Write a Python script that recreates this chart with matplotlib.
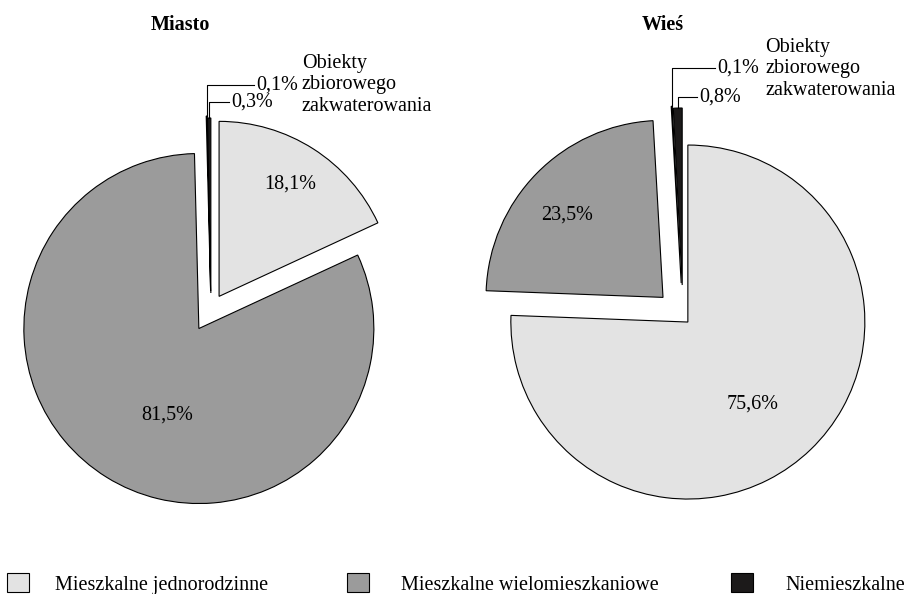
import numpy as np
import matplotlib
matplotlib.use("Agg")
import matplotlib.pyplot as plt

# data (order in each pie, clockwise from 12 o'clock)
categories = ["Mieszkalne jednorodzinne", "Mieszkalne wielomieszkaniowe",
              "Obiekty zbiorowego zakwaterowania", "Niemieszkalne"]
miasto = [18.1, 81.5, 0.1, 0.3]
wies = [75.6, 23.5, 0.1, 0.8]
titles = ["Miasto", "Wieś"]
colors = ["#e3e3e3", "#9b9b9b", "#ffffff", "#1c1a1a"]

plt.rcParams["font.family"] = ["Liberation Serif", "DejaVu Serif"]
FS = 14.5

fig = plt.figure(figsize=(9.14, 5.94), dpi=100)
ax = fig.add_axes([0, 0, 1, 1])


def fmt(v):
    return f"{v:.1f}".replace(".", ",") + "%"


def draw_pie(vals, center, radius, explode):
    wedges, _ = ax.pie(vals, colors=colors, startangle=-90, counterclock=True,
                       explode=explode, center=center, radius=radius,
                       wedgeprops=dict(edgecolor="black", linewidth=0.8))
    return wedges


def tip(w):
    a = np.deg2rad((w.theta1 + w.theta2) / 2)
    return w.center[0] + w.r * np.cos(a), w.center[1] + w.r * np.sin(a)


def leader(w, y_lab, x_end, text):
    x0, y0 = tip(w)
    ax.plot([x0, x0, x_end], [y0, y_lab, y_lab], color="black", lw=0.8)
    ax.text(x_end + 2, y_lab, text, fontsize=FS, va="center", ha="left")


# Miasto
wm = draw_pie(miasto, (211, 309), 175, [15, 23, 18, 16])
# Wieś
ww = draw_pie(wies, (683, 317), 177, [7, 28, 34, 32])

ax.set_xlim(0, 914)
ax.set_ylim(594, 0)
ax.set_aspect("equal")
ax.axis("off")

ax.text(180, 30, titles[0], fontsize=FS, fontweight="bold", ha="center", va="baseline")
ax.text(663, 30, titles[1], fontsize=FS, fontweight="bold", ha="center", va="baseline")

ax.text(290, 184, fmt(miasto[0]), fontsize=FS, ha="center", va="center")
ax.text(167, 415, fmt(miasto[1]), fontsize=FS, ha="center", va="center")
ax.text(567, 215, fmt(wies[1]), fontsize=FS, ha="center", va="center")
ax.text(753, 404, fmt(wies[0]), fontsize=FS, ha="center", va="center")

leader(wm[2], 85, 254, fmt(miasto[2]))
leader(wm[3], 102, 229, fmt(miasto[3]))
leader(ww[2], 68, 715, fmt(wies[2]))
leader(ww[3], 97, 697, fmt(wies[3]))

obj = "Obiekty\nzbiorowego\nzakwaterowania"
ax.text(302, 85, obj, fontsize=FS, ha="left", va="center", linespacing=1.2)
ax.text(765, 69, obj, fontsize=FS, ha="left", va="center", linespacing=1.2)

# legend: three separate entries spread across the bottom
leg_x = [7, 347, 731]
leg_pad = [1.3, 1.6, 1.6]
for i, idx in enumerate([0, 1, 3]):
    leg = ax.legend([wm[idx]], [categories[idx]], loc="center left",
                    bbox_to_anchor=(leg_x[i] / 914, 1 - 584 / 594),
                    bbox_transform=ax.transAxes, frameon=False, fontsize=FS,
                    borderpad=0, borderaxespad=0, handlelength=1.08,
                    handleheight=1.08, handletextpad=leg_pad[i])
    if i < 2:
        ax.add_artist(leg)

fig.savefig("out.png", dpi=100)
